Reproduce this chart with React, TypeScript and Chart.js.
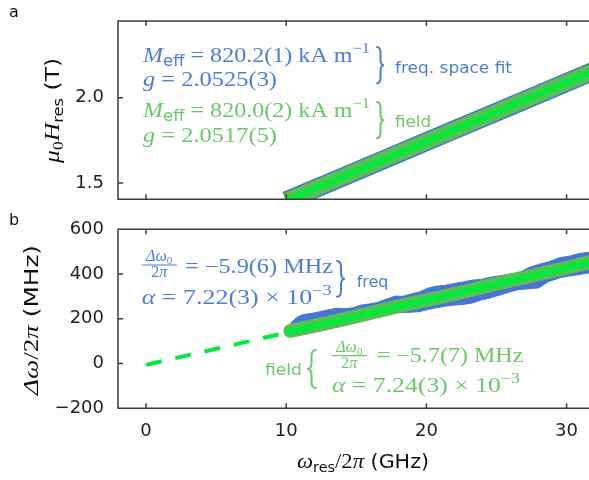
import React, { useEffect, useRef } from "react";
import { Chart, registerables } from "chart.js";
Chart.register(...registerables);

// ---------- data ----------
const xTicks = [0, 10, 20, 30];
const topYTicks = [1.5, 2.0];
const botYTicks = [-200, 0, 200, 400, 600];

// panel a: mu0 Hres (T) vs f (GHz)
const topFreqX = [10, 14, 18, 22, 26, 30, 33];
const topFreqY = [1.395, 1.534, 1.673, 1.812, 1.951, 2.090, 2.194];
const topFieldX = [10, 14, 18, 22, 26, 30, 33];
const topFieldY = [1.395, 1.534, 1.673, 1.812, 1.951, 2.090, 2.194];
const topFitX = [10, 33];
const topFitY = [1.395, 2.194];

// panel b: linewidth (MHz) vs f (GHz)
const linFreqX = [10.3, 10.8, 11.2, 11.8, 12.4, 13.0, 13.6, 14.2, 14.8, 15.3, 15.9, 16.5, 17.0, 17.8, 18.3, 18.8, 19.5, 20.1, 20.7, 21.3, 21.9, 22.6, 23.3, 23.9, 24.4, 25.0, 25.4, 26.0, 26.6, 27.3, 28.0, 28.7, 29.5, 30.2, 30.9, 31.6, 33];
const linFreqUpper = [180, 208, 219, 224, 232, 240, 247, 245, 250, 261, 266, 273, 285, 302, 300, 309, 320, 337, 346, 349, 357, 364, 373, 376, 384, 390, 394, 400, 406, 429, 443, 454, 473, 480, 492, 497, 509];
const linFreqLower = [122, 128, 137, 146, 156, 166, 175, 179, 182, 196, 204, 208, 216, 227, 228, 229, 232, 242, 249, 256, 261, 264, 271, 284, 291, 302, 309, 321, 331, 334, 338, 366, 383, 391, 398, 405, 426];
const linFieldX = [10.3, 12, 14, 16, 18, 20, 22, 24, 26, 28, 30, 31.6, 33];
const linFieldY = [146, 168, 196, 226, 256, 283, 311, 341, 371, 399, 428, 452, 472];
const linFitDashX = [0, 10];
const linFitDashY = [-6, 138];
const linFitX = [10, 33];
const linFitY = [138, 471];

// ---------- style ----------
const BLUE = "#4675d3";
const GREEN_BAND = "#58c052";
const BRIGHT = "#00ea3c";
const BLUE_TXT = "#4d7dd5";
const GREEN_TXT = "#6cc66c";
const SERIF = '"Liberation Serif"';
const SANS = '"DejaVu Sans"';
const mi = (px: number) => `italic ${px}px ${SERIF}`;
const mr = (px: number) => `${px}px ${SERIF}`;
const sf = (px: number) => `${px}px ${SANS}`;

const W = 589;
const TOP_H = 205;
const BOT_H = 275;
const OFF = TOP_H; // page y offset of bottom canvas

const pts = (xs: number[], ys: number[]) => xs.map((x, i) => ({ x, y: ys[i] }));

type Seg = { t: string; font: string; dy?: number };

function measure(ctx: CanvasRenderingContext2D, segs: Seg[]) {
  let w = 0;
  for (const s of segs) {
    ctx.font = s.font;
    w += ctx.measureText(s.t).width;
  }
  return w;
}

function drawRich(
  ctx: CanvasRenderingContext2D,
  segs: Seg[],
  x: number,
  y: number,
  color: string,
  targetW?: number,
  align: "left" | "center" = "left",
  rotate = false
) {
  const w = measure(ctx, segs);
  const sx = targetW ? targetW / w : 1;
  ctx.save();
  ctx.translate(x, y);
  if (rotate) ctx.rotate(-Math.PI / 2);
  if (align === "center") ctx.translate((-w * sx) / 2, 0);
  ctx.scale(sx, 1);
  ctx.fillStyle = color;
  ctx.textBaseline = "alphabetic";
  ctx.textAlign = "left";
  let cx = 0;
  for (const s of segs) {
    ctx.font = s.font;
    ctx.fillText(s.t, cx, s.dy || 0);
    cx += ctx.measureText(s.t).width;
  }
  ctx.restore();
}

function drawBrace(ctx: CanvasRenderingContext2D, x0: number, x1: number, y0: number, y1: number, color: string, dir: number) {
  const xm = (x0 + x1) / 2;
  const ym = (y0 + y1) / 2;
  const xe = dir > 0 ? x0 : x1;
  const xt = dir > 0 ? x1 : x0;
  const r = Math.min(6, (y1 - y0) / 6);
  ctx.save();
  ctx.beginPath();
  ctx.moveTo(xe, y0);
  ctx.quadraticCurveTo(xm, y0, xm, y0 + r);
  ctx.lineTo(xm, ym - r);
  ctx.quadraticCurveTo(xm, ym, xt, ym);
  ctx.quadraticCurveTo(xm, ym, xm, ym + r);
  ctx.lineTo(xm, y1 - r);
  ctx.quadraticCurveTo(xm, y1, xe, y1);
  ctx.lineWidth = 2;
  ctx.lineCap = "round";
  ctx.strokeStyle = color;
  ctx.stroke();
  ctx.restore();
}

function drawFraction(ctx: CanvasRenderingContext2D, cx: number, x0: number, x1: number, numBase: number, barY: number, denBase: number, color: string) {
  drawRich(ctx, [{ t: "Δω", font: mi(16) }, { t: "0", font: mr(11), dy: 3 }], cx, numBase, color, undefined, "center");
  ctx.save();
  ctx.strokeStyle = color;
  ctx.lineWidth = 1.2;
  ctx.beginPath();
  ctx.moveTo(x0, barY);
  ctx.lineTo(x1, barY);
  ctx.stroke();
  ctx.restore();
  drawRich(ctx, [{ t: "2", font: mr(16) }, { t: "π", font: mi(16) }], cx, denBase, color, undefined, "center");
}

function framePlugin(yTicks: number[], draw: (ctx: CanvasRenderingContext2D) => void) {
  return {
    id: "frame",
    afterDatasetsDraw(chart: any) {
      const { ctx, chartArea: a, scales } = chart;
      ctx.save();
      ctx.strokeStyle = "#3d3d3d";
      ctx.lineWidth = 1.5;
      ctx.beginPath();
      ctx.moveTo(a.right + 5, a.top);
      ctx.lineTo(a.left, a.top);
      ctx.lineTo(a.left, a.bottom);
      ctx.lineTo(a.right + 5, a.bottom);
      for (const v of xTicks) {
        const px = scales.x.getPixelForValue(v);
        ctx.moveTo(px, a.top);
        ctx.lineTo(px, a.top + 5);
        ctx.moveTo(px, a.bottom);
        ctx.lineTo(px, a.bottom - 5);
      }
      for (const v of yTicks) {
        const py = scales.y.getPixelForValue(v);
        ctx.moveTo(a.left, py);
        ctx.lineTo(a.left + 5, py);
      }
      ctx.stroke();
      ctx.restore();
      draw(ctx);
    },
  };
}

function makeOptions(yMin: number, yMax: number, yTicks: number[], yFmt: (v: number) => string, showX: boolean, padTop: number, xHeight: number) {
  const tickFont = { family: "DejaVu Sans", size: 18 };
  const noPad = (s: any) => {
    s.paddingTop = 0;
    s.paddingBottom = 0;
    s.paddingLeft = 0;
    s.paddingRight = 0;
  };
  return {
    responsive: false,
    animation: false as const,
    devicePixelRatio: 1,
    layout: { padding: { top: padTop, left: 0, right: 0, bottom: 0 } },
    plugins: { legend: { display: false }, tooltip: { enabled: false }, title: { display: false } },
    elements: { point: { radius: 0 }, line: { tension: 0 } },
    scales: {
      x: {
        type: "linear" as const,
        min: -2,
        max: 31.6,
        grid: { display: false, drawTicks: false },
        border: { display: false },
        afterBuildTicks: (s: any) => {
          s.ticks = xTicks.map((v) => ({ value: v }));
        },
        afterFit: (s: any) => {
          s.height = xHeight;
          noPad(s);
        },
        ticks: {
          display: showX,
          padding: 12,
          font: tickFont,
          color: "#222",
          maxRotation: 0,
          autoSkip: false,
          callback: (v: any) => String(v),
        },
      },
      y: {
        type: "linear" as const,
        min: yMin,
        max: yMax,
        grid: { display: false, drawTicks: false },
        border: { display: false },
        afterBuildTicks: (s: any) => {
          s.ticks = yTicks.map((v) => ({ value: v }));
        },
        afterFit: (s: any) => {
          s.width = 118;
          noPad(s);
        },
        ticks: {
          padding: 14,
          font: tickFont,
          color: "#222",
          autoSkip: false,
          callback: (v: any) => yFmt(Number(v)),
        },
      },
    },
  };
}

function drawTopAnnotations(ctx: CanvasRenderingContext2D) {
  drawRich(ctx, [{ t: "a", font: sf(16) }], 9, 17, "#111");
  drawRich(
    ctx,
    [
      { t: "μ", font: mi(22) },
      { t: "0", font: mr(15), dy: 4 },
      { t: "H", font: mi(22) },
      { t: "res", font: sf(14), dy: 4 },
      { t: " (T)", font: sf(20) },
    ],
    59,
    110.5,
    "#111",
    105,
    "center",
    true
  );
  const line1 = (v: string): Seg[] => [
    { t: "M", font: mi(22) },
    { t: "eff", font: sf(15), dy: 4 },
    { t: ` = ${v} kA m`, font: mr(22) },
    { t: "−1", font: mr(15), dy: -9 },
  ];
  const line2 = (v: string): Seg[] => [
    { t: "g", font: mi(22) },
    { t: ` = ${v}`, font: mr(22) },
  ];
  drawRich(ctx, line1("820.2(1)"), 143, 61.7, BLUE_TXT, 227);
  drawRich(ctx, line2("2.0525(3)"), 143, 86, BLUE_TXT, 134);
  drawRich(ctx, line1("820.0(2)"), 143, 116.7, GREEN_TXT, 227);
  drawRich(ctx, line2("2.0517(5)"), 143, 141.7, GREEN_TXT, 134);
  drawBrace(ctx, 377, 384, 47, 83.3, BLUE_TXT, 1);
  drawBrace(ctx, 377, 384, 102, 138.3, GREEN_TXT, 1);
  drawRich(ctx, [{ t: "freq. space fit", font: sf(16) }], 395, 73.3, BLUE_TXT, 117);
  drawRich(ctx, [{ t: "field", font: sf(16) }], 395, 126.7, GREEN_TXT, 36);
}

function drawBottomAnnotations(ctx: CanvasRenderingContext2D) {
  const o = OFF;
  drawRich(ctx, [{ t: "b", font: sf(16) }], 9, 225 - o, "#111");
  drawRich(
    ctx,
    [
      { t: "Δω", font: mi(22) },
      { t: "/2", font: mr(22) },
      { t: "π", font: mi(22) },
      { t: " (MHz)", font: sf(20) },
    ],
    37.5,
    320 - o,
    "#111",
    150,
    "center",
    true
  );
  drawRich(
    ctx,
    [
      { t: "ω", font: mi(22) },
      { t: "res", font: sf(14), dy: 4 },
      { t: "/2", font: mr(22) },
      { t: "π", font: mi(22) },
      { t: " (GHz)", font: sf(20) },
    ],
    363,
    468 - o,
    "#111",
    132,
    "center"
  );
  drawFraction(ctx, 159.2, 141.7, 176.7, 260.5 - o, 265 - o, 276.5 - o, BLUE_TXT);
  drawRich(ctx, [{ t: "= −5.9(6) MHz", font: mr(20) }], 185, 273 - o, BLUE_TXT, 148);
  drawRich(
    ctx,
    [
      { t: "α", font: mi(20) },
      { t: " = 7.22(3) × 10", font: mr(20) },
      { t: "−3", font: mr(14), dy: -9 },
    ],
    141.7,
    304.3 - o,
    BLUE_TXT,
    190
  );
  drawBrace(ctx, 337, 345, 261 - o, 296.7 - o, BLUE_TXT, 1);
  drawRich(ctx, [{ t: "freq", font: sf(16) }], 356.7, 286.7 - o, BLUE_TXT, 31.6);
  drawRich(ctx, [{ t: "field", font: sf(16) }], 265, 375 - o, GREEN_TXT, 36.7);
  drawBrace(ctx, 307, 316, 350 - o, 388 - o, GREEN_TXT, -1);
  drawFraction(ctx, 349.3, 332, 366.7, 352 - o, 355.7 - o, 368 - o, GREEN_TXT);
  drawRich(ctx, [{ t: "= −5.7(7) MHz", font: mr(20) }], 376.7, 361.5 - o, GREEN_TXT, 146.7);
  drawRich(
    ctx,
    [
      { t: "α", font: mi(20) },
      { t: " = 7.24(3) × 10", font: mr(20) },
      { t: "−3", font: mr(14), dy: -9 },
    ],
    332,
    392 - o,
    GREEN_TXT,
    188
  );
}

export default function App() {
  const topRef = useRef<HTMLCanvasElement>(null);
  const botRef = useRef<HTMLCanvasElement>(null);

  useEffect(() => {
    const topChart = new Chart(topRef.current!, {
      type: "line",
      data: {
        datasets: [
          { data: pts(topFitX, topFitY), borderColor: BRIGHT, borderWidth: 6, pointRadius: 0, clip: 0, borderCapStyle: "butt" },
          { data: pts(topFieldX, topFieldY), borderColor: GREEN_BAND, borderWidth: 16, pointRadius: 0, clip: 0, borderCapStyle: "butt" },
          { data: pts(topFreqX, topFreqY), borderColor: BLUE, borderWidth: 19, pointRadius: 0, clip: 0, borderCapStyle: "butt" },
        ],
      } as any,
      options: makeOptions(1.404, 2.451, topYTicks, (v) => v.toFixed(1), false, 21, TOP_H - 199.3) as any,
      plugins: [framePlugin(topYTicks, drawTopAnnotations)],
    });

    const botChart = new Chart(botRef.current!, {
      type: "line",
      data: {
        datasets: [
          { data: pts(linFitX, linFitY), borderColor: BRIGHT, borderWidth: 6, pointRadius: 0, clip: 0 },
          { data: pts(linFitDashX, linFitDashY), borderColor: BRIGHT, borderWidth: 4, borderDash: [16, 14], pointRadius: 0, clip: 0 },
          { data: pts(linFieldX, linFieldY), borderColor: GREEN_BAND, borderWidth: 14, borderCapStyle: "round", pointRadius: 0, clip: 0 },
          { data: pts(linFreqX, linFreqLower), borderColor: BLUE, borderWidth: 1, pointRadius: 0, fill: false, clip: 0 },
          { data: pts(linFreqX, linFreqUpper), borderColor: BLUE, borderWidth: 1, backgroundColor: BLUE, pointRadius: 0, fill: "-1", clip: 0 },
        ],
      } as any,
      options: makeOptions(-200, 600, botYTicks, (v) => String(v).replace("-", "−"), true, 229.3 - OFF, BOT_H - (408.3 - OFF)) as any,
      plugins: [framePlugin(botYTicks, drawBottomAnnotations)],
    });

    return () => {
      topChart.destroy();
      botChart.destroy();
    };
  }, []);

  return (
    <div style={{ position: "fixed", left: 0, top: 0, width: W, height: TOP_H + BOT_H, background: "#fff" }}>
      <canvas ref={topRef} width={W} height={TOP_H} style={{ position: "absolute", left: 0, top: 0, display: "block" }} />
      <canvas ref={botRef} width={W} height={BOT_H} style={{ position: "absolute", left: 0, top: TOP_H, display: "block" }} />
    </div>
  );
}
